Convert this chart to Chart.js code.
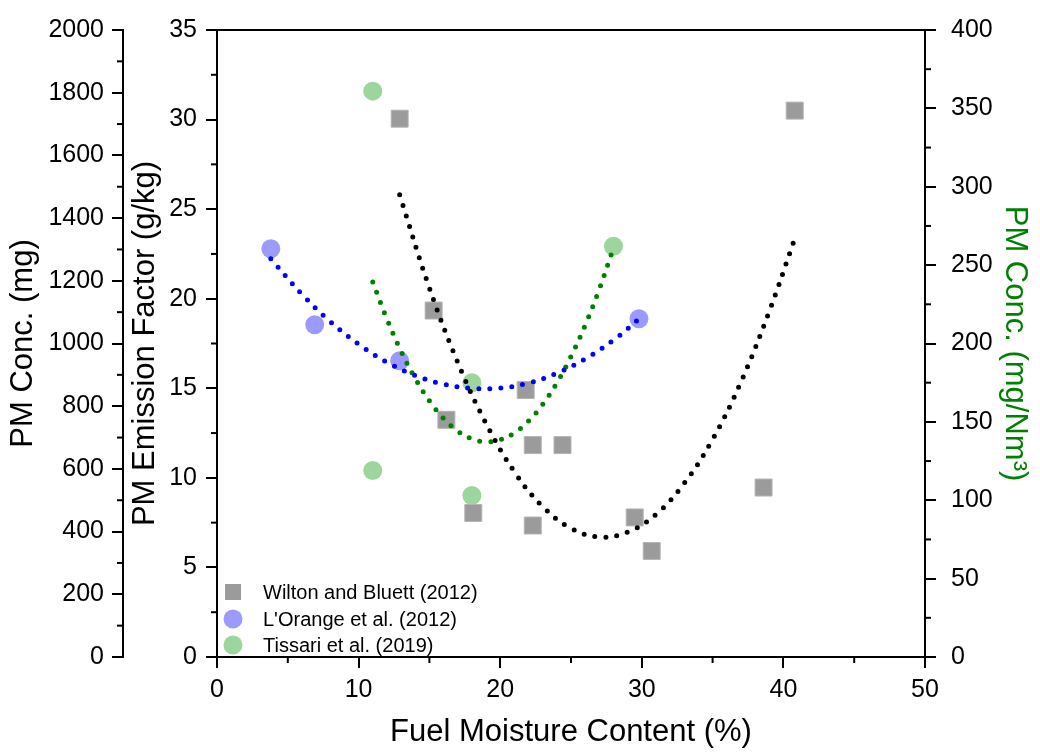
<!DOCTYPE html>
<html><head><meta charset="utf-8">
<script src="https://cdn.jsdelivr.net/npm/chart.js@4/dist/chart.umd.min.js"></script>
<style>html,body{margin:0;padding:0;background:#fff}canvas{display:block}</style>
</head><body>
<canvas id="c" width="1040" height="753"></canvas>
<script>
// ---- data ----
const seriesNames = ['Wilton and Bluett (2012)', "L'Orange et al. (2012)", 'Tissari et al. (2019)'];

const wiltonX  = [12.9, 40.8, 15.3, 16.2, 21.8, 22.3, 24.4, 18.1, 22.3, 29.5, 30.7, 38.6];
const wiltonEF = [30.05, 30.5, 19.34, 13.24, 14.9, 11.83, 11.83, 8.04, 7.34, 7.79, 5.92, 9.46];

const lorangeX  = [3.8, 6.9, 12.9, 29.8];
const lorangeMg = [1302, 1060, 945, 1079];

const tissariX    = [11.0, 18.0, 11.0, 18.0, 28.0];
const tissariConc = [361, 175, 119, 103, 262];

const wiltonFitX  = [12.9, 15, 17, 19, 21, 23, 25, 27, 29, 31, 33, 35, 37, 39, 40.8];
const wiltonFitEF = [25.8, 20.6, 16.45, 13.04, 10.34, 8.4, 7.19, 6.7, 6.97, 7.96, 9.7, 12.15, 15.35, 19.29, 23.35];

const lorangeFitX  = [3.8, 6, 8, 10, 12, 14, 16, 18, 20, 22, 24, 26, 28, 29.8];
const lorangeFitMg = [1270, 1157, 1070, 998, 940, 898, 870, 857, 858, 874, 905, 951, 1011, 1078];

const tissariFitX    = [11, 12, 13, 14, 15, 16, 17, 18, 19, 20, 21, 22, 23, 24, 25, 26, 27, 28];
const tissariFitConc = [239.2, 215.6, 195.1, 177.7, 163.4, 152.2, 144.1, 139.2, 137.3, 138.6, 143.0, 150.5, 161.1, 174.9, 191.7, 211.7, 234.7, 261];

// ---- tick labels ----
const xTicks    = [0, 10, 20, 30, 40, 50];
const xMinor    = [5, 15, 25, 35, 45];
const yMgTicks  = [0, 200, 400, 600, 800, 1000, 1200, 1400, 1600, 1800, 2000];
const yMgMinor  = [100, 300, 500, 700, 900, 1100, 1300, 1500, 1700, 1900];
const yEFTicks  = [0, 5, 10, 15, 20, 25, 30, 35];
const yEFMinor  = [2.5, 7.5, 12.5, 17.5, 22.5, 27.5, 32.5];
const yNmTicks  = [0, 50, 100, 150, 200, 250, 300, 350, 400];
const yNmMinor  = [25, 75, 125, 175, 225, 275, 325, 375];

const pts = (xs, ys) => xs.map((x, i) => ({x, y: ys[i]}));
const FONT = "'Liberation Sans', Arial, sans-serif";
const tickFont = {family: FONT, size: 25};
const titleFont = {family: FONT, size: 31};
const plain = v => String(v);

const fitStyle = (color) => ({
  showLine: true, pointRadius: 0, pointHoverRadius: 0, borderColor: color, borderWidth: 5,
  borderDash: [0, 11], borderCapStyle: 'round', tension: 0.4, fill: false, order: 0
});

const gray = '#9b9b9b', blueFill = '#9b9bff', greenFill = '#9dd69d';

const minorPlugin = {
  id: 'minorTicks',
  afterDraw(chart) {
    const ctx = chart.ctx, s = chart.scales, L = 6;
    ctx.save(); ctx.strokeStyle = '#000'; ctx.lineWidth = 2;
    const line = (x1, y1, x2, y2) => { ctx.beginPath(); ctx.moveTo(x1, y1); ctx.lineTo(x2, y2); ctx.stroke(); };
    xMinor.forEach(v => { const p = s.x.getPixelForValue(v); line(p, s.x.top, p, s.x.top + L); });
    yMgMinor.forEach(v => { const p = s.yMg.getPixelForValue(v); line(s.yMg.right - L, p, s.yMg.right, p); });
    yEFMinor.forEach(v => { const p = s.yEF.getPixelForValue(v); line(s.yEF.right - L, p, s.yEF.right, p); });
    yNmMinor.forEach(v => { const p = s.yNm.getPixelForValue(v); line(s.yNm.left, p, s.yNm.left + L, p); });
    ctx.restore();
  }
};

const legendPlugin = {
  id: 'insideLegend',
  afterDraw(chart) {
    const ctx = chart.ctx, a = chart.chartArea;
    const ds = chart.data.datasets;
    const offs = [65, 38, 12];
    ctx.save();
    ctx.font = "20px " + FONT; ctx.textBaseline = 'middle';
    [0, 1, 2].forEach((r, i) => {
      const d = ds[r];
      const cy = a.bottom - offs[i], cx = a.left + 16;
      ctx.fillStyle = d.backgroundColor;
      if (d.pointStyle === 'rect') {
        ctx.fillRect(cx - 8, cy - 8, 16, 16);
      } else {
        ctx.beginPath(); ctx.arc(cx, cy, 9.5, 0, Math.PI * 2); ctx.fill();
      }
      ctx.fillStyle = '#000';
      ctx.fillText(seriesNames[r], a.left + 46, cy + 1);
    });
    ctx.restore();
  }
};

const setTicks = (arr) => (scale) => { scale.ticks = arr.map(v => ({value: v})); };

new Chart(document.getElementById('c'), {
  type: 'scatter',
  data: {
    datasets: [
      {label: seriesNames[0], data: pts(wiltonX, wiltonEF), yAxisID: 'yEF', pointStyle: 'rect',
       pointRadius: 12, backgroundColor: gray, borderColor: '#b4b4b4', borderWidth: 1, order: 1},
      {label: seriesNames[1], data: pts(lorangeX, lorangeMg), yAxisID: 'yMg', pointStyle: 'circle',
       pointRadius: 9.5, backgroundColor: blueFill, borderColor: blueFill, borderWidth: 0, order: 1},
      {label: seriesNames[2], data: pts(tissariX, tissariConc), yAxisID: 'yNm', pointStyle: 'circle',
       pointRadius: 9.5, backgroundColor: greenFill, borderColor: greenFill, borderWidth: 0, order: 1},
      Object.assign({label: 'fitW', data: pts(wiltonFitX, wiltonFitEF), yAxisID: 'yEF'}, fitStyle('#000000')),
      Object.assign({label: 'fitL', data: pts(lorangeFitX, lorangeFitMg), yAxisID: 'yMg'}, fitStyle('#0000ff')),
      Object.assign({label: 'fitT', data: pts(tissariFitX, tissariFitConc), yAxisID: 'yNm'}, fitStyle('#008000'))
    ]
  },
  options: {
    responsive: false, animation: false, devicePixelRatio: 1,
    layout: {padding: {left: 0, right: 0, top: 18, bottom: 0}},
    plugins: {legend: {display: false}, tooltip: {enabled: false}},
    scales: {
      x: {
        type: 'linear', position: 'bottom', min: 0, max: 50,
        afterBuildTicks: setTicks(xTicks),
        afterFit: s => { s.height = 96; },
        ticks: {font: tickFont, color: '#000', padding: 7, callback: plain},
        grid: {drawOnChartArea: false, color: '#000', tickLength: 11, lineWidth: 2},
        border: {display: true, color: '#000', width: 2},
        title: {display: true, text: 'Fuel Moisture Content (%)', font: titleFont, color: '#000', padding: {top: 0, bottom: 2}}
      },
      xTop: {
        type: 'linear', position: 'top', min: 0, max: 50,
        afterFit: s => { s.height = 0; },
        ticks: {display: false}, grid: {display: false, drawTicks: false},
        border: {display: true, color: '#000', width: 2}
      },
      yMg: {
        type: 'linear', position: 'left', weight: 1, min: 0, max: 2000,
        afterBuildTicks: setTicks(yMgTicks),
        afterFit: s => { s.width = 123; },
        ticks: {font: tickFont, color: '#000', padding: 8, callback: plain},
        grid: {drawOnChartArea: false, color: '#000', tickLength: 11, lineWidth: 2},
        border: {display: true, color: '#000', width: 2},
        title: {display: true, text: 'PM Conc. (mg)', font: titleFont, color: '#000', padding: {top: 5, bottom: 0}}
      },
      yEF: {
        type: 'linear', position: 'left', weight: 0, min: 0, max: 35,
        afterBuildTicks: setTicks(yEFTicks),
        afterFit: s => { s.width = 94; },
        ticks: {font: tickFont, color: '#000', padding: 9, callback: plain},
        grid: {drawOnChartArea: false, color: '#000', tickLength: 11, lineWidth: 2},
        border: {display: true, color: '#000', width: 2},
        title: {display: true, text: 'PM Emission Factor (g/kg)', font: titleFont, color: '#000', padding: {top: 4, bottom: 0}}
      },
      yNm: {
        type: 'linear', position: 'right', min: 0, max: 400,
        afterBuildTicks: setTicks(yNmTicks),
        afterFit: s => { s.width = 115; },
        ticks: {font: tickFont, color: '#000', padding: 15, callback: plain},
        grid: {drawOnChartArea: false, color: '#000', tickLength: 11, lineWidth: 2},
        border: {display: true, color: '#000', width: 2},
        title: {display: true, text: 'PM Conc. (mg/Nm³)', font: titleFont, color: '#008000', padding: {top: 7, bottom: 0}}
      }
    }
  },
  plugins: [minorPlugin, legendPlugin]
});
</script>
</body></html>
